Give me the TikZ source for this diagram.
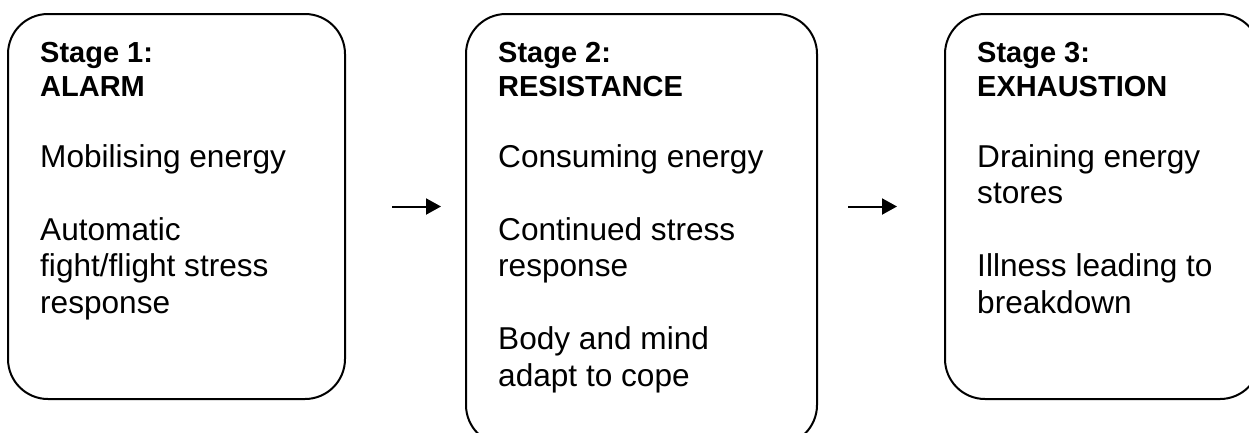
\documentclass[tikz,border=0pt]{standalone}
\usepackage{fontspec}
\setmainfont{Liberation Sans}
\usetikzlibrary{arrows.meta, positioning}
\tikzset{
  stagebox/.style={rectangle, draw, line width=2pt, rounded corners=40pt,
                   inner sep=0pt, outer sep=0pt},
  stagehdr/.style={align=left, inner sep=0pt, anchor=north west,
                   font=\bfseries\fontsize{29}{34}\selectfont},
  stagebody/.style={align=left, inner sep=0pt, anchor=north west,
                    font=\fontsize{31.6}{36.5}\selectfont},
  arr/.style={-{Triangle[length=15pt, width=16pt]}, line width=2pt},
}

\begin{document}
\begin{tikzpicture}[x=1pt, y=-1pt]
  \useasboundingbox (0,0) rectangle (1249,432);
  \node[stagebox, anchor=north west, minimum width=337pt, minimum height=385pt] (box1) at (8,14) {};
  \node[stagebox, right=121pt of box1.north east, anchor=north west,
        minimum width=351pt, minimum height=431pt] (box2) {};
  \node[stagebox, right=128pt of box2.north east, anchor=north west,
        minimum width=315pt, minimum height=385pt] (box3) {};

  \node[stagehdr, below right=27.6pt and 32pt of box1.north west] (hdr1) {Stage 1:\\ALARM};
  \node[stagehdr, below right=27.6pt and 32pt of box2.north west] (hdr2) {Stage 2:\\RESISTANCE};
  \node[stagehdr, below right=27.6pt and 32pt of box3.north west] (hdr3) {Stage 3:\\EXHAUSTION};

  \node[stagebody, below right=130pt and 32pt of box1.north west] (body1)
    {Mobilising energy\\[36.5pt]
     Automatic\\fight/flight stress\\response};
  \node[stagebody, below right=130pt and 32pt of box2.north west] (body2)
    {Consuming energy\\[36.5pt]
     Continued stress\\response\\[36.5pt]
     Body and mind\\adapt to cope};
  \node[stagebody, below right=130pt and 32pt of box3.north west] (body3)
    {Draining energy\\stores\\[36.5pt]
     Illness leading to\\breakdown};

  \draw[arr, shorten <=47pt, shorten >=25pt] (box1.east) -- (box1.east -| box2.west);
  \draw[arr, shorten <=31pt, shorten >=48pt] (box3.west -| box2.east) -- (box3.west);
\end{tikzpicture}
\end{document}
